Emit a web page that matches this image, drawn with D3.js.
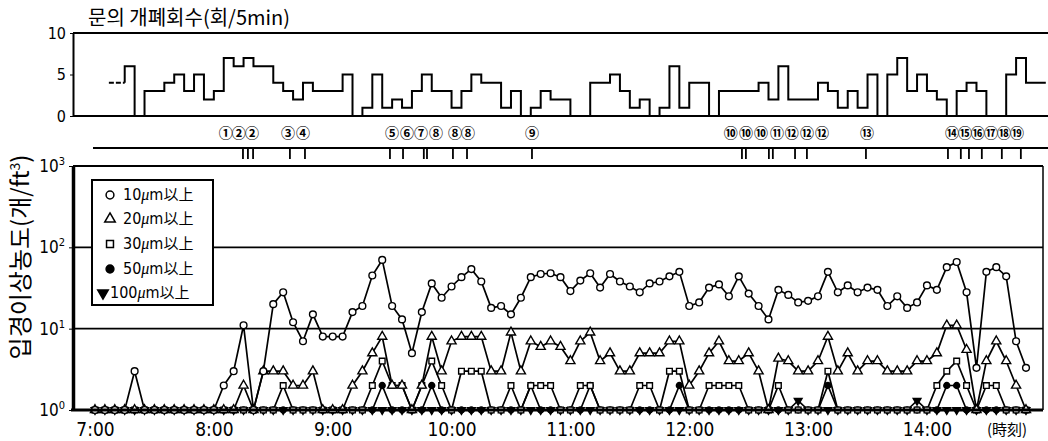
<!DOCTYPE html>
<html><head><meta charset="utf-8">
<script src="https://cdn.jsdelivr.net/npm/d3@7"></script>
<style>
body{margin:0;background:#fff;}
svg{display:block;}
.num{font-family:"Liberation Sans Narrow","DejaVu Sans Condensed","Arial Narrow",sans-serif;}
.kr{font-family:"Noto Sans CJK KR","Noto Sans",sans-serif;}
.jp{font-family:"Noto Sans CJK JP","Noto Sans",sans-serif;}
</style></head><body>
<svg id="c" width="1048" height="441"></svg>
<script>
// ---------- DATA ----------
// particle concentration samples every 5 minutes starting at 7:00 (count / ft^3)
const sampleStartMin = 0;          // minutes after 7:00
const sampleStepMin = 5;
const p10 = [1,1,1,1,3,1,1,1,1,1,1,1,1,2,3,11,1,3,20,28,
  12,7,15,8,8,8,16,19,45,70,19,13,5,16,36,24,33,43,54,38,
  18,19,15,24,43,47,48,43,29,39,48,32,47,38,33,28,36,38,44,50,
  19,21,32,35,25,44,27,19,13,30,26,21,22,25,50,28,34,28,32,30,
  19,25,18,21,34,30,57,66,28,3.3,50,57,44,7,3.3];
const p20 = [1,1,1,1,1,1,1,1,1,1,1,1,1,1,1,2,1,3,3,3,
  2,2,3,1,1,1,2,3,5,8,2,2,1,2,8,3,7,8,8,8,
  3,3,9,3,7,6,7,6,4,7,9,4,5,3,3,5,5,5,7,7,
  2,3,5,7,4,4,5,3,1,4.3,4,3,3,4,8,3,5,3,4,4,
  3,3,3,4,4,5,11,11,5.5,1,4,7,4,2,1];
const p30 = [1,1,1,1,1,1,1,1,1,1,1,1,1,1,1,1,1,1,1,2,
  1,1,1,1,1,1,1,1,2,4,2,2,1,2,4,2,1,3,3,3,
  1,1,2,1,2,2,2,1,1,2,2,1,1,1,1,2,2,1,3,3,
  1,1,2,2,2,2,1,1,1,2,1,1,1,1,3,1,1,1,1,1,
  1,1,1,1,1,2,3,4,2,1,2,2,1,1,1];
const p50 = [1,1,1,1,1,1,1,1,1,1,1,1,1,1,1,1,1,1,1,1,
  1,1,1,1,1,1,1,1,1,2,1,1,1,1,2,1,1,1,1,1,
  1,1,1,1,2,1,1,1,1,1,2,1,1,1,1,1,1,1,1,2,
  1,1,1,1,1,1,1,1,1,1,1,1,1,1,2,1,1,1,1,1,
  1,1,1,1,1,1,2,2,1,1,1,1,1,1,1];
const p100 = [1,1,1,1,1,1,1,1,1,1,1,1,1,1,1,1,1,1,1,1,
  1,1,1,1,1,1,1,1,1,1,1,1,1,1,1,1,1,1,1,1,
  1,1,1,1,1,1,1,1,1,1,1,1,1,1,1,1,1,1,1,1,
  1,1,1,1,1,1,1,1,1,1,1,1.3,1,1,1,1,1,1,1,1,
  1,1,1,1.3,1,1,1,1,1,1,1,1,1,1,1];
const seriesNames = ["10\u03bcm以上","20\u03bcm以上","30\u03bcm以上","50\u03bcm以上","100\u03bcm以上"];

// door openings per 5 min (count)
const doorDashFromMin = 7;     // dashed (uncertain) part
const doorDashValue = 4;
const doorStartMin = 15;
const doorStepMin = 5;
const doorValues = [6,0,3,3,4,5,3,5,2,3,7,6,7,6,6,4,3,2,4,3,3,3,5,0,1,5,1,2,1,3,
  5,3,3,1,3,5,4,4,1,3,0,1,3,2,2,0,0,4,4,5,3,1,2,0,1,6,1,4,4,0,
  3,3,3,3,4,2,6,2,2,2,4,3,1,3,1,5,0,5,7,3,5,3,2,0,3,4,3,0,0,5,7,4,4];

// events (minutes after 7:00)
const eventTickMin = [74.7,77.2,79.8,98.4,106,148.9,155.5,166,167.6,180.7,187.8,220.6,
  326.6,328.6,340.2,342.2,353.4,359.4,389.2,430.6,437.1,441.2,447.7,457.8,467.4];
const eventLabels = ["①","②","②","③","④","⑤","⑥","⑦","⑧","⑧","⑧","⑨",
  "⑩","⑩","⑩","⑪","⑫","⑫","⑫","⑬","⑭","⑮","⑯","⑰","⑱","⑲"];
const eventLabelMin = [66,72.6,79.2,97.4,105,149.9,157.5,164.6,172.1,181.7,188.3,220.6,
  321,328.6,336.2,344.3,351.8,359.4,367,389.7,432.6,439.2,445.7,452.3,458.9,465.4];

// axes
const timeTickMin = [0,60,120,180,240,300,360,420];
const timeTickLabels = ["7:00","8:00","9:00","10:00","11:00","12:00","13:00","14:00"];
const concTicks = [1,10,100,1000];
const concTickExp = ["0","1","2","3"];
const doorTicks = [0,5,10];

// ---------- DRAW ----------
const svg = d3.select("#c");
const x = d3.scaleLinear().domain([0,470]).range([95,1026]);
const y = d3.scaleLog().domain([1,1000]).range([410,166]);
const yd = d3.scaleLinear().domain([0,10]).range([116,33]);
const L = 73, R = 1043;

// title
svg.append("text").attr("x",88).attr("y",25).attr("font-size",20).attr("class","kr")
  .text("문의 개폐회수(회/5min)");

// door panel frame
svg.append("line").attr("x1",L).attr("x2",1048).attr("y1",yd(10)).attr("y2",yd(10)).attr("stroke","#000").attr("stroke-width",2);
svg.append("line").attr("x1",L).attr("x2",1048).attr("y1",yd(0)).attr("y2",yd(0)).attr("stroke","#000").attr("stroke-width",2);
const gd = svg.append("g").attr("transform",`translate(${L},0)`)
  .call(d3.axisLeft(yd).tickValues(doorTicks).tickSize(3).tickSizeOuter(0).tickPadding(4));
gd.select(".domain").attr("stroke-width",2);
gd.selectAll("text").attr("class","num").attr("font-size",16).attr("fill","#000").attr("font-family",null);

// door step line
const doorPts = [{t:doorStartMin, v:doorDashValue}]
  .concat(doorValues.map((v,i)=>({t:doorStartMin+i*doorStepMin, v})));
doorPts.push({t:doorStartMin+doorValues.length*doorStepMin, v:doorValues[doorValues.length-1]});
svg.append("path").datum(doorPts)
  .attr("d", d3.line().x(d=>x(d.t)).y(d=>yd(d.v)).curve(d3.curveStepAfter))
  .attr("fill","none").attr("stroke","#000").attr("stroke-width",2);
svg.append("line").attr("x1",x(doorDashFromMin)).attr("x2",x(doorStartMin))
  .attr("y1",yd(doorDashValue)).attr("y2",yd(doorDashValue))
  .attr("stroke","#000").attr("stroke-width",2).attr("stroke-dasharray","5,2");

// event row
svg.append("line").attr("x1",93).attr("x2",1048).attr("y1",148).attr("y2",148).attr("stroke","#000").attr("stroke-width",2);
svg.selectAll(".evt").data(eventTickMin).join("line").attr("class","evt")
  .attr("x1",d=>x(d)).attr("x2",d=>x(d)).attr("y1",149).attr("y2",159)
  .attr("stroke","#000").attr("stroke-width",1.8);
svg.selectAll(".evl").data(eventLabels).join("text").attr("class","evl jp")
  .attr("x",(d,i)=>x(eventLabelMin[i])).attr("y",138).attr("text-anchor","middle")
  .attr("font-size",14).attr("font-weight","bold").text(d=>d);

// main frame / grid
[1000,100,10].forEach(v=>{
  svg.append("line").attr("x1",L).attr("x2",R).attr("y1",y(v)).attr("y2",y(v))
    .attr("stroke","#000").attr("stroke-width", v===1000?2.2:1.6);
});
svg.append("line").attr("x1",R).attr("x2",R).attr("y1",y(1000)).attr("y2",y(1)).attr("stroke","#000").attr("stroke-width",1.5);

// legend box (drawn over grid)
const lg = svg.append("g");
lg.append("rect").attr("x",92).attr("y",180).attr("width",121).attr("height",125)
  .attr("fill","#fff").attr("stroke","#000").attr("stroke-width",2);

// series
const series = [p100,p50,p30,p20,p10];
const symbols = [
  {type:d3.symbolTriangle, fill:"#000", rot:180, size:26},
  {type:d3.symbolCircle, fill:"#000", rot:0, size:28},
  {type:d3.symbolSquare, fill:"#fff", rot:0, size:32},
  {type:d3.symbolTriangle, fill:"#fff", rot:0, size:36},
  {type:d3.symbolCircle, fill:"#fff", rot:0, size:36}
];
const line = d3.line().x((d,i)=>x(sampleStartMin+i*sampleStepMin)).y(d=>y(d));
series.forEach((s,si)=>{
  const g = svg.append("g");
  g.append("path").datum(s).attr("d",line).attr("fill","none").attr("stroke","#000").attr("stroke-width",1.7);
  const sym = d3.symbol().type(symbols[si].type).size(symbols[si].size);
  g.selectAll("path.m").data(s).join("path").attr("class","m")
    .attr("d",sym)
    .attr("transform",(d,i)=>`translate(${x(sampleStartMin+i*sampleStepMin)},${y(d)}) rotate(${symbols[si].rot})`)
    .attr("fill",symbols[si].fill).attr("stroke","#000").attr("stroke-width",1.4);
});

// axes
const gy = svg.append("g").attr("transform",`translate(${L},0)`)
  .call(d3.axisLeft(y).tickValues(concTicks).tickFormat("").tickSize(4).tickSizeOuter(0));
gy.select(".domain").attr("stroke-width",3.5);
concTicks.forEach((v,i)=>{
  const t = svg.append("text").attr("class","num").attr("x",65).attr("y",y(v)+6)
    .attr("text-anchor","end").attr("font-size",17).text("10");
  t.append("tspan").attr("dy",-7).attr("font-size",11).text(concTickExp[i]);
});
const gx = svg.append("g").attr("transform",`translate(0,${y(1)})`)
  .call(d3.axisBottom(x).tickValues(timeTickMin).tickFormat((d,i)=>timeTickLabels[i]).tickSize(0).tickSizeOuter(0));
gx.select(".domain").remove();
gx.selectAll("text").attr("class","num").attr("font-family",null).attr("font-size",19)
  .attr("fill","#000").attr("y",26).attr("dy",0);
svg.append("line").attr("x1",L-2).attr("x2",R).attr("y1",y(1)).attr("y2",y(1)).attr("stroke","#000").attr("stroke-width",3);
svg.append("text").attr("class","jp").attr("x",1007).attr("y",435).attr("text-anchor","middle")
  .attr("font-size",15).text("(時刻)");

// y title
const yt = svg.append("text").attr("class","kr").attr("transform","translate(29,257) rotate(-90)")
  .attr("text-anchor","middle").attr("font-size",24).text("입경이상농도(개/ft");
yt.append("tspan").attr("dy",-9).attr("font-size",14).text("3");
yt.append("tspan").attr("dy",9).text(")");

// legend items
const legY = [195,219,244,269,293];
const legSym = [4,3,2,1,0];
seriesNames.forEach((n,i)=>{
  const s = symbols[legSym[i]];
  lg.append("path").attr("d",d3.symbol().type(s.type).size(48)())
    .attr("transform",`translate(${i===4?103:110},${legY[i]}) rotate(${s.rot})`)
    .attr("fill",s.fill).attr("stroke","#000").attr("stroke-width",1.5);
  const t = lg.append("text").attr("x",i===4?110:123).attr("y",legY[i]+5).attr("font-size",16);
  const m = n.match(/^(\d+)(\u03bc)(m)(.*)$/);
  t.append("tspan").attr("class","num").text(m[1]);
  t.append("tspan").attr("font-family","Liberation Serif,serif").attr("font-style","italic").text(m[2]);
  t.append("tspan").attr("class","num").text(m[3]);
  t.append("tspan").attr("class","jp").attr("font-size",15).text(m[4]);
});
</script>
</body></html>
